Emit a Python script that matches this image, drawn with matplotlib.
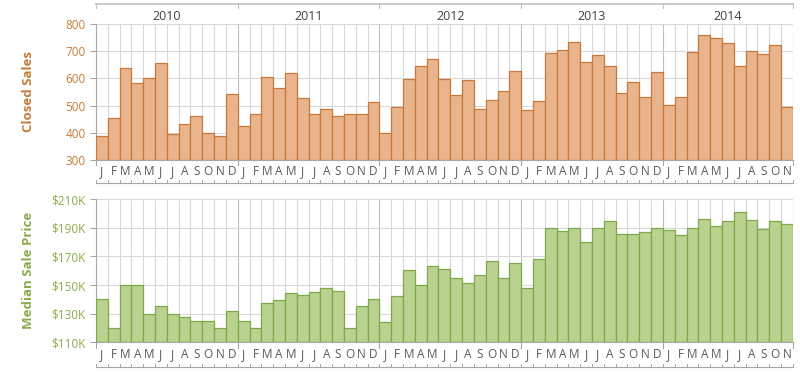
import matplotlib
matplotlib.use("Agg")
import matplotlib.pyplot as plt
from matplotlib.ticker import FuncFormatter

YEARS = ["2010", "2011", "2012", "2013", "2014"]
MONTHS = ["J", "F", "M", "A", "M", "J", "J", "A", "S", "O", "N", "D"] * 4 + \
         ["J", "F", "M", "A", "M", "J", "J", "A", "S", "O", "N"]

closed_sales = [389, 453, 637, 582, 603, 657, 396, 431, 463, 399, 387, 543,
                425, 469, 606, 563, 619, 528, 469, 488, 463, 470, 470, 513,
                399, 496, 599, 647, 670, 598, 539, 594, 488, 522, 555, 628,
                484, 516, 692, 703, 733, 661, 685, 646, 546, 588, 532, 622,
                502, 533, 698, 760, 747, 728, 644, 700, 690, 724, 494]

median_price = [140, 120, 150, 150, 130, 135, 130, 127.7, 125, 125, 120, 132,
                124.6, 120, 137.2, 139.3, 144.2, 143.2, 145.1, 147.9, 146, 120, 135.3, 140,
                124.2, 142.1, 160.2, 150, 163.5, 161.2, 154.9, 151.2, 157, 166.7, 155, 165.1,
                148.1, 167.9, 189.8, 187.9, 190, 180, 190, 194.9, 185.6, 185.6, 187, 190,
                188.4, 184.9, 189.6, 196, 191.4, 194.6, 200.9, 195.5, 189, 194.9, 192.8]

ORANGE_FILL, ORANGE_EDGE, ORANGE_TEXT = "#e9b48c", "#c8783c", "#c67b38"
GREEN_FILL, GREEN_EDGE, GREEN_TEXT = "#b9d28f", "#7fa84a", "#8aad4c"
GRID, AXIS, MONTH_TXT = "#d9d9d9", "#a6a6a6", "#595959"
FONT = "Open Sans"

n = len(MONTHS)
x = list(range(n))
year_edges = [i - 0.5 for i in range(0, n, 12)] + [n - 0.5]

fig = plt.figure(figsize=(8, 3.73), dpi=100)
ax1 = fig.add_axes([0.12, 0.571, 0.871, 0.365])
ax2 = fig.add_axes([0.12, 0.0823, 0.871, 0.384])


def style(ax, values, ylim, ticks, fill, edge, txt, label, fmt, bracket_y):
    ax.bar(x, [v - ylim[0] for v in values], bottom=ylim[0], width=1.0,
           color=fill, edgecolor=edge, linewidth=0.9, zorder=3)
    ax.set_xlim(-0.5, n - 0.5)
    ax.set_ylim(*ylim)
    ax.set_yticks(ticks)
    ax.yaxis.set_major_formatter(FuncFormatter(fmt))
    ax.tick_params(axis="y", colors=AXIS, labelcolor=txt, labelsize=8.5,
                   length=4, width=0.8)
    for t in ax.get_yticklabels():
        t.set_fontfamily(FONT)
    ax.set_xticks([])
    for s in ["top", "right"]:
        ax.spines[s].set_visible(False)
    ax.spines["left"].set_color(AXIS)
    ax.spines["bottom"].set_color(AXIS)
    ax.yaxis.grid(True, color=GRID, lw=0.8, zorder=0)
    for i in range(n + 1):
        c = "#bfbfbf" if (i - 0.5) in year_edges else GRID
        ax.axvline(i - 0.5, color=c, lw=0.8, zorder=0)
    ax.set_ylabel(label, color=txt, fontsize=9.5, fontweight="bold",
                  fontfamily=FONT)
    ax.yaxis.set_label_coords(-0.088, 0.5)
    tr = ax.get_xaxis_transform()
    # year boundary ticks on bottom spine
    for e in year_edges:
        ax.plot([e, e], [0, -0.04], color=AXIS, lw=0.8, transform=tr, clip_on=False)
    for i, m in enumerate(MONTHS):
        ax.text(i, -0.085, m, transform=tr, ha="center", va="center",
                fontsize=8.5, color=MONTH_TXT, fontfamily=FONT)
    # category bracket under the month labels
    ax.plot([-0.5, n - 0.5], [bracket_y, bracket_y], color=AXIS, lw=0.8,
            transform=tr, clip_on=False)
    for i in range(n + 1):
        ax.plot([i - 0.5, i - 0.5], [bracket_y, bracket_y + 0.02], color=AXIS,
                lw=0.7, transform=tr, clip_on=False)


style(ax1, closed_sales, (300, 800), range(300, 801, 100),
      ORANGE_FILL, ORANGE_EDGE, ORANGE_TEXT, "Closed Sales",
      lambda v, p: f"{v:.0f}", -0.169)
style(ax2, median_price, (110, 210), range(110, 211, 20),
      GREEN_FILL, GREEN_EDGE, GREEN_TEXT, "Median Sale Price",
      lambda v, p: f"${v:.0f}K", -0.172)

# year bracket above the top panel
tr = ax1.get_xaxis_transform()
ax1.plot([-0.5, n - 0.5], [1.147, 1.147], color="#bfbfbf", lw=1.2,
         transform=tr, clip_on=False)
for e in year_edges:
    ax1.plot([e, e], [1.147, 1.12], color="#bfbfbf", lw=0.8, transform=tr, clip_on=False)
for k, yr in enumerate(YEARS):
    lo = year_edges[k]
    hi = year_edges[k + 1]
    ax1.text((lo + hi) / 2, 1.055, yr, transform=tr, ha="center", va="center",
             fontsize=9, color="#404040", fontfamily=FONT)

fig.savefig("out.png", dpi=100)
